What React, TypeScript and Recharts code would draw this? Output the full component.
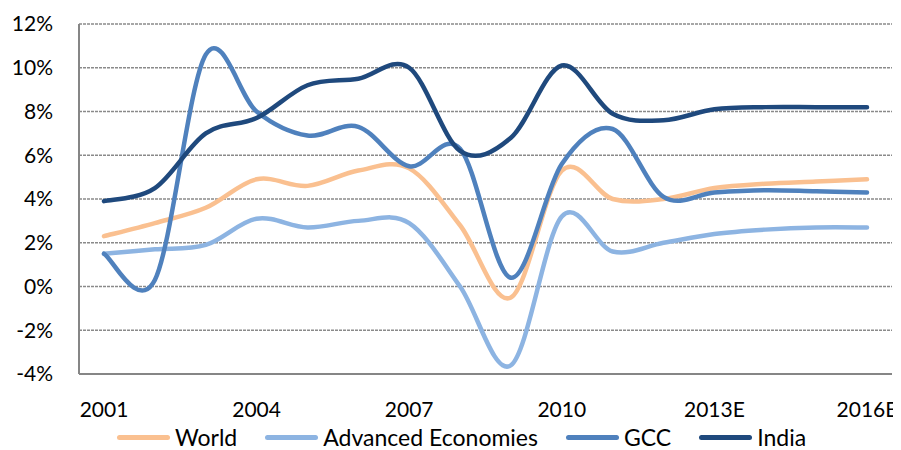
import React from 'react';
import { LineChart, Line, XAxis, YAxis, CartesianGrid, Legend } from 'recharts';

const years = ['2001', '2002', '2003', '2004', '2005', '2006', '2007', '2008', '2009', '2010', '2011', '2012', '2013E', '2014E', '2015E', '2016E'];
const world = [2.3, 2.9, 3.6, 4.9, 4.6, 5.3, 5.4, 2.8, -0.5, 5.3, 4.0, 4.0, 4.5, 4.7, 4.8, 4.9];
const advanced = [1.5, 1.7, 1.9, 3.1, 2.7, 3.0, 2.9, 0.0, -3.6, 3.2, 1.6, 2.0, 2.4, 2.6, 2.7, 2.7];
const gcc = [1.5, 0.3, 10.6, 8.0, 6.9, 7.3, 5.5, 6.3, 0.4, 5.6, 7.2, 4.1, 4.3, 4.4, 4.35, 4.3];
const india = [3.9, 4.5, 7.0, 7.7, 9.2, 9.5, 10.0, 6.2, 6.8, 10.1, 7.9, 7.6, 8.1, 8.2, 8.2, 8.2];
const yTicks = [-4, -2, 0, 2, 4, 6, 8, 10, 12];

const series = [
  { key: 'world', name: 'World', color: '#FAC090' },
  { key: 'advanced', name: 'Advanced Economies', color: '#8DB4E2' },
  { key: 'gcc', name: 'GCC', color: '#4F81BD' },
  { key: 'india', name: 'India', color: '#1F497D' },
];

const data = years.map((year, i) => ({
  year,
  world: world[i],
  advanced: advanced[i],
  gcc: gcc[i],
  india: india[i],
}));

// Excel-style smoothed line (catmull-rom through the points)
const smoothCurve: any = (context: any) => {
  let pts: number[][] = [];
  return {
    areaStart() {},
    areaEnd() {},
    lineStart() { pts = []; },
    point(x: number, y: number) { pts.push([+x, +y]); },
    lineEnd() {
      const n = pts.length;
      if (!n) return;
      context.moveTo(pts[0][0], pts[0][1]);
      for (let i = 0; i < n - 1; i++) {
        const p0 = pts[Math.max(i - 1, 0)];
        const p1 = pts[i];
        const p2 = pts[i + 1];
        const p3 = pts[Math.min(i + 2, n - 1)];
        context.bezierCurveTo(
          p1[0] + (p2[0] - p0[0]) / 6, p1[1] + (p2[1] - p0[1]) / 6,
          p2[0] - (p3[0] - p1[0]) / 6, p2[1] - (p3[1] - p1[1]) / 6,
          p2[0], p2[1]
        );
      }
    },
  };
};

const FONT = 'Lato, "Open Sans", sans-serif';

const renderLegend = () => (
  <div style={{ display: 'flex', alignItems: 'center', height: 30, paddingTop: 4, paddingLeft: 109, boxSizing: 'border-box', fontFamily: FONT, fontSize: 23, lineHeight: '24px', color: '#000', whiteSpace: 'nowrap' }}>
    {series.map((s) => (
      <div key={s.key} style={{ display: 'flex', alignItems: 'center', marginRight: 28 }}>
        <span style={{ display: 'inline-block', width: 53, height: 5, borderRadius: 3, background: s.color, marginRight: 5 }} />
        <span>{s.name}</span>
      </div>
    ))}
  </div>
);

export default function App() {
  return (
    <div style={{ fontFamily: FONT }}>
      <LineChart width={893} height={442} data={data} margin={{ top: 16, right: 9, bottom: 0, left: 0 }}>
        <CartesianGrid vertical={false} stroke="#8a8a8a" strokeWidth={1.5} strokeDasharray="3 1" />
        <XAxis
          dataKey="year"
          interval={2}
          height={46}
          padding={{ left: 25, right: 25 }}
          axisLine={{ stroke: '#868686', strokeWidth: 2 }}
          tickLine={false}
          tickSize={0}
          tickMargin={28}
          tick={{ fill: '#000', fontSize: 21, fontFamily: FONT }}
        />
        <YAxis
          domain={[-4, 12]}
          ticks={yTicks}
          width={71}
          tickFormatter={(v) => `${v}%`}
          axisLine={{ stroke: '#868686', strokeWidth: 2 }}
          tickLine={false}
          tickSize={0}
          tickMargin={26}
          tick={{ fill: '#000', fontSize: 21, fontFamily: FONT }}
        />
        <YAxis
          yAxisId="right"
          orientation="right"
          domain={[-4, 12]}
          width={0}
          tick={false}
          tickLine={false}
          axisLine={{ stroke: '#a6a6a6', strokeWidth: 1.5 }}
        />
        <Legend verticalAlign="bottom" content={renderLegend} wrapperStyle={{ height: 30 }} />
        {series.map((s) => (
          <Line
            key={s.key}
            dataKey={s.key}
            name={s.name}
            type={smoothCurve}
            stroke={s.color}
            strokeWidth={4.5}
            strokeLinecap="round"
            dot={false}
            activeDot={false}
            isAnimationActive={false}
          />
        ))}
      </LineChart>
    </div>
  );
}
